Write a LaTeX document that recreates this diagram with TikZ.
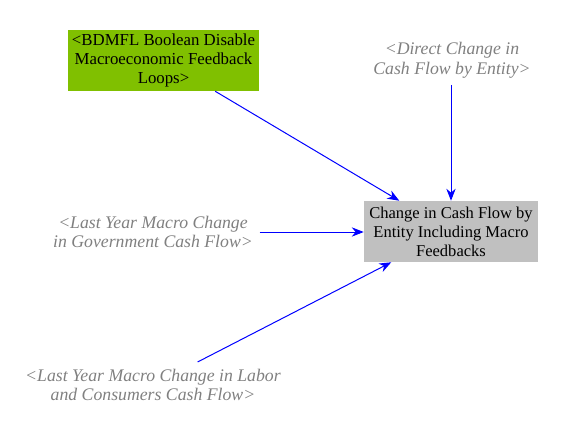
\documentclass[tikz,border=0pt]{standalone}
\usepackage{fontspec}
\setmainfont{Liberation Serif}
\usetikzlibrary{arrows.meta}
\definecolor{vgreen}{RGB}{128,192,0}
\definecolor{vgray}{RGB}{192,192,192}
\definecolor{vtext}{RGB}{128,128,128}
\definecolor{vblue}{RGB}{0,0,255}
\begin{document}
\begin{tikzpicture}[x=0.75pt,y=-0.75pt,
  every node/.style={font=\fontsize{12.4}{14.2}\selectfont, align=center},
  greenbox/.style={fill=vgreen, minimum width=143.25pt, minimum height=45.75pt, inner sep=0pt, font=\fontsize{12.6}{14.2}\selectfont},
  graybox/.style={fill=vgray, minimum width=130.5pt, minimum height=45.75pt, inner sep=0pt},
  shadow/.style={text=vtext, font=\fontsize{13.3}{14.8}\selectfont\itshape, inner sep=5pt},
  link/.style={draw=vblue, line width=0.75pt, -{Stealth[length=9pt,width=7pt]}}]
\useasboundingbox (0,0) rectangle (569,425);
\node[greenbox] (bdmfl) at (163.5,60.5) {<BDMFL Boolean Disable\\Macroeconomic Feedback\\Loops>};
\node[graybox] (chg) at (451,231.5) {Change in Cash Flow by\\Entity Including Macro\\Feedbacks};
\node[shadow] (direct) at (452,60) {<Direct Change in\\Cash Flow by Entity>};
\node[shadow] (gov) at (153,232) {<Last Year Macro Change\\in Government Cash Flow>};
\node[shadow] (labor) at (153,385) {<Last Year Macro Change in Labor\\and Consumers Cash Flow>};
\draw[link] (bdmfl) -- (chg);
\draw[link] (direct.south -| chg.north) -- (chg.north);
\draw[link] (gov.east) -- (gov.east -| chg.west);
\draw[link] (labor) -- (chg);
\end{tikzpicture}
\end{document}
